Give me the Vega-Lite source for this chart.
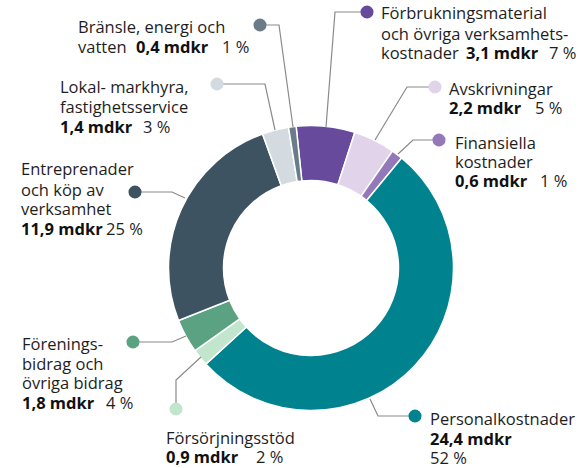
{
  "$schema": "https://vega.github.io/schema/vega-lite/v6.json",
  "width": 554,
  "height": 400,
  "autosize": {"type": "none"},
  "padding": {"left": 34, "top": 68, "right": 0, "bottom": 0},
  "background": "white",
  "config": {"view": {"stroke": null}, "font": "Open Sans"},
  "datasets": {
    "costs": [
      {"category": "Förbrukningsmaterial", "amount": 3.1, "rank": 1},
      {"category": "Avskrivningar", "amount": 2.2, "rank": 2},
      {"category": "Finansiella kostnader", "amount": 0.6, "rank": 3},
      {"category": "Personalkostnader", "amount": 24.4, "rank": 4},
      {"category": "Försörjningsstöd", "amount": 0.9, "rank": 5},
      {"category": "Föreningsbidrag", "amount": 1.8, "rank": 6},
      {"category": "Entreprenader", "amount": 11.9, "rank": 7},
      {"category": "Lokal- markhyra", "amount": 1.4, "rank": 8},
      {"category": "Bränsle, energi och vatten", "amount": 0.4, "rank": 9}
    ],
    "dots": [
      {"category": "Förbrukningsmaterial", "x": 56, "y": -256},
      {"category": "Avskrivningar", "x": 124, "y": -181},
      {"category": "Finansiella kostnader", "x": 128, "y": -128},
      {"category": "Personalkostnader", "x": 104, "y": 148},
      {"category": "Försörjningsstöd", "x": -135, "y": 141},
      {"category": "Föreningsbidrag", "x": -178, "y": 74},
      {"category": "Entreprenader", "x": -176, "y": -76},
      {"category": "Lokal- markhyra", "x": -94, "y": -184},
      {"category": "Bränsle, energi och vatten", "x": -51, "y": -243}
    ],
    "leaders": [
      {"category": "Förbrukningsmaterial", "seq": 1, "x": 56, "y": -256},
      {"category": "Förbrukningsmaterial", "seq": 2, "x": 24, "y": -256},
      {"category": "Förbrukningsmaterial", "seq": 3, "x": 15, "y": -141},
      {"category": "Avskrivningar", "seq": 1, "x": 124, "y": -181},
      {"category": "Avskrivningar", "seq": 2, "x": 96, "y": -181},
      {"category": "Avskrivningar", "seq": 3, "x": 64, "y": -128},
      {"category": "Finansiella kostnader", "seq": 1, "x": 128, "y": -128},
      {"category": "Finansiella kostnader", "seq": 2, "x": 102, "y": -128},
      {"category": "Finansiella kostnader", "seq": 3, "x": 87, "y": -114},
      {"category": "Personalkostnader", "seq": 1, "x": 104, "y": 148},
      {"category": "Personalkostnader", "seq": 2, "x": 67, "y": 148},
      {"category": "Personalkostnader", "seq": 3, "x": 59, "y": 131},
      {"category": "Försörjningsstöd", "seq": 1, "x": -135, "y": 141},
      {"category": "Försörjningsstöd", "seq": 2, "x": -135, "y": 112},
      {"category": "Försörjningsstöd", "seq": 3, "x": -110, "y": 89},
      {"category": "Föreningsbidrag", "seq": 1, "x": -178, "y": 74},
      {"category": "Föreningsbidrag", "seq": 2, "x": -139, "y": 74},
      {"category": "Föreningsbidrag", "seq": 3, "x": -125, "y": 68},
      {"category": "Entreprenader", "seq": 1, "x": -176, "y": -76},
      {"category": "Entreprenader", "seq": 2, "x": -139, "y": -76},
      {"category": "Entreprenader", "seq": 3, "x": -126, "y": -70},
      {"category": "Lokal- markhyra", "seq": 1, "x": -94, "y": -184},
      {"category": "Lokal- markhyra", "seq": 2, "x": -46, "y": -184},
      {"category": "Lokal- markhyra", "seq": 3, "x": -36, "y": -138},
      {"category": "Bränsle, energi och vatten", "seq": 1, "x": -51, "y": -243},
      {"category": "Bränsle, energi och vatten", "seq": 2, "x": -32, "y": -243},
      {"category": "Bränsle, energi och vatten", "seq": 3, "x": -18, "y": -141}
    ],
    "labels": [
      {"text": "Bränsle, energi och", "part": "name", "x": -233, "y": -235},
      {"text": "vatten", "part": "name", "x": -233, "y": -215},
      {"text": "0,4 mdkr", "part": "amount", "x": -175, "y": -215},
      {"text": "1 %", "part": "share", "x": -89, "y": -215},
      {"text": "Lokal- markhyra,", "part": "name", "x": -251, "y": -175},
      {"text": "fastighetsservice", "part": "name", "x": -251, "y": -155},
      {"text": "1,4 mdkr", "part": "amount", "x": -251, "y": -135},
      {"text": "3 %", "part": "share", "x": -168, "y": -135},
      {"text": "Förbrukningsmaterial", "part": "name", "x": 70, "y": -249},
      {"text": "och övriga verksamhets-", "part": "name", "x": 70, "y": -228},
      {"text": "kostnader", "part": "name", "x": 70, "y": -209},
      {"text": "3,1 mdkr", "part": "amount", "x": 155, "y": -209},
      {"text": "7 %", "part": "share", "x": 238, "y": -209},
      {"text": "Avskrivningar", "part": "name", "x": 138, "y": -173},
      {"text": "2,2 mdkr", "part": "amount", "x": 138, "y": -154},
      {"text": "5 %", "part": "share", "x": 224, "y": -154},
      {"text": "Finansiella", "part": "name", "x": 144, "y": -119},
      {"text": "kostnader", "part": "name", "x": 144, "y": -100},
      {"text": "0,6 mdkr", "part": "amount", "x": 144, "y": -81},
      {"text": "1 %", "part": "share", "x": 229, "y": -81},
      {"text": "Personalkostnader", "part": "name", "x": 119, "y": 157},
      {"text": "24,4 mdkr", "part": "amount", "x": 119, "y": 177},
      {"text": "52 %", "part": "share", "x": 119, "y": 196},
      {"text": "Försörjningsstöd", "part": "name", "x": -145, "y": 176},
      {"text": "0,9 mdkr", "part": "amount", "x": -145, "y": 195},
      {"text": "2 %", "part": "share", "x": -55, "y": 195},
      {"text": "Förenings-", "part": "name", "x": -289, "y": 82},
      {"text": "bidrag och", "part": "name", "x": -289, "y": 102},
      {"text": "övriga bidrag", "part": "name", "x": -289, "y": 121},
      {"text": "1,8 mdkr", "part": "amount", "x": -289, "y": 141},
      {"text": "4 %", "part": "share", "x": -205, "y": 141},
      {"text": "Entreprenader", "part": "name", "x": -290, "y": -93},
      {"text": "och köp av", "part": "name", "x": -290, "y": -72},
      {"text": "verksamhet", "part": "name", "x": -290, "y": -53},
      {"text": "11,9 mdkr", "part": "amount", "x": -290, "y": -33},
      {"text": "25 %", "part": "share", "x": -205, "y": -33}
    ]
  },
  "layer": [
    {
      "data": {"name": "costs"},
      "mark": {"type": "arc", "radius": 142.5, "radius2": 87.5, "stroke": "white", "strokeWidth": 1.5},
      "encoding": {
        "theta": {"field": "amount", "type": "quantitative", "stack": true, "scale": {"range": [-0.1047, 6.1785]}},
        "order": {"field": "rank", "type": "quantitative"},
        "color": {
          "field": "category", "type": "nominal", "legend": null,
          "scale": {
            "domain": ["Förbrukningsmaterial", "Avskrivningar", "Finansiella kostnader", "Personalkostnader", "Försörjningsstöd", "Föreningsbidrag", "Entreprenader", "Lokal- markhyra", "Bränsle, energi och vatten"],
            "range": ["#674a9b", "#e1d3ea", "#9479ba", "#00838f", "#c2e5cd", "#5ba283", "#3e5361", "#d3dbe0", "#6b7b87"]
          }
        }
      }
    },
    {
      "data": {"name": "leaders"},
      "mark": {"type": "line", "color": "#8a8a8a", "strokeWidth": 1.2},
      "encoding": {
        "x": {"field": "x", "type": "quantitative", "axis": null, "scale": {"domain": [-277, 277], "nice": false, "zero": false}},
        "y": {"field": "y", "type": "quantitative", "axis": null, "scale": {"domain": [200, -200], "nice": false, "zero": false}},
        "detail": {"field": "category", "type": "nominal"},
        "order": {"field": "seq", "type": "quantitative"}
      }
    },
    {
      "data": {"name": "dots"},
      "mark": {"type": "point", "filled": true, "opacity": 1, "size": 170},
      "encoding": {
        "x": {"field": "x", "type": "quantitative", "axis": null, "scale": {"domain": [-277, 277], "nice": false, "zero": false}},
        "y": {"field": "y", "type": "quantitative", "axis": null, "scale": {"domain": [200, -200], "nice": false, "zero": false}},
        "color": {"field": "category", "type": "nominal", "legend": null}
      }
    },
    {
      "data": {"name": "labels"},
      "transform": [{"filter": "datum.part != 'amount'"}],
      "mark": {"type": "text", "align": "left", "baseline": "alphabetic", "fontSize": 16.5, "color": "#1e1e1e"},
      "encoding": {
        "x": {"field": "x", "type": "quantitative", "axis": null, "scale": {"domain": [-277, 277], "nice": false, "zero": false}},
        "y": {"field": "y", "type": "quantitative", "axis": null, "scale": {"domain": [200, -200], "nice": false, "zero": false}},
        "text": {"field": "text", "type": "nominal"}
      }
    },
    {
      "data": {"name": "labels"},
      "transform": [{"filter": "datum.part == 'amount'"}],
      "mark": {"type": "text", "align": "left", "baseline": "alphabetic", "fontSize": 16.5, "fontWeight": "bold", "color": "#111111"},
      "encoding": {
        "x": {"field": "x", "type": "quantitative", "axis": null, "scale": {"domain": [-277, 277], "nice": false, "zero": false}},
        "y": {"field": "y", "type": "quantitative", "axis": null, "scale": {"domain": [200, -200], "nice": false, "zero": false}},
        "text": {"field": "text", "type": "nominal"}
      }
    }
  ]
}
